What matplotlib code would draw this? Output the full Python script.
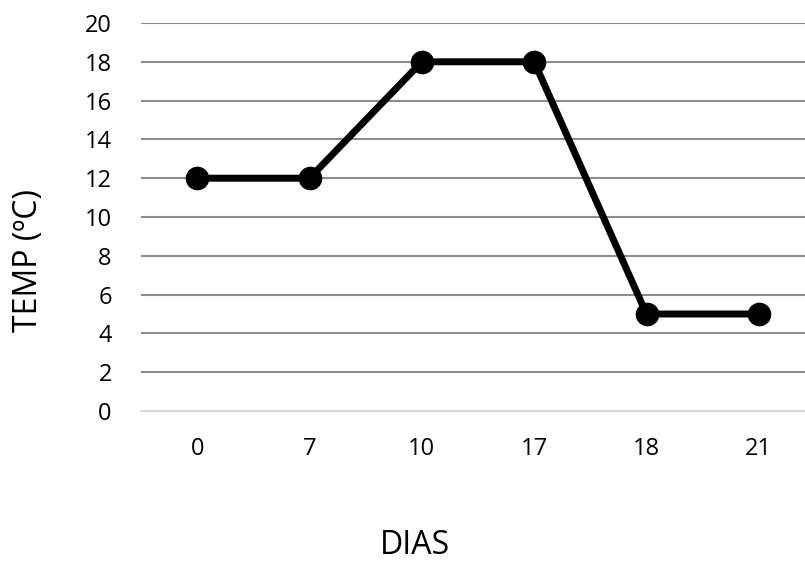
import matplotlib.pyplot as plt

dias = ["0", "7", "10", "17", "18", "21"]
temp = [12, 12, 18, 18, 5, 5]
yticks = list(range(0, 21, 2))

plt.rcParams['font.family'] = ['Open Sans', 'DejaVu Sans']

fig = plt.figure(figsize=(8.05, 5.62), dpi=100)
ax = fig.add_axes([141 / 805, 1 - 411 / 562, 674 / 805, 388 / 562])

x = list(range(len(dias)))
ax.plot(x, temp, color='black', linewidth=5, marker='o', markersize=16,
        solid_capstyle='round', zorder=3, clip_on=False)

ax.set_xlim(-0.5, len(dias) - 0.5)
ax.set_ylim(0, 20)
ax.set_yticks(yticks)
ax.set_xticks(x)
ax.set_xticklabels(dias)
ax.grid(axis='y', color='#8c8c8c', linewidth=1.5)
ax.set_axisbelow(True)

for s in ['top', 'right', 'left']:
    ax.spines[s].set_visible(False)
ax.spines['bottom'].set_color('#d9d9d9')
ax.spines['bottom'].set_linewidth(1.5)
ax.tick_params(axis='both', length=0, labelsize=17)
ax.tick_params(axis='x', pad=19)
ax.tick_params(axis='y', pad=21)

fig.text(415 / 805, 8 / 562, "DIAS", ha='center', va='baseline', fontsize=23)
fig.text(29 / 805, 1 - 260 / 562, "TEMP (ºC)", ha='center', va='center',
         fontsize=23, rotation=90)

fig.savefig("out.png", dpi=100)
